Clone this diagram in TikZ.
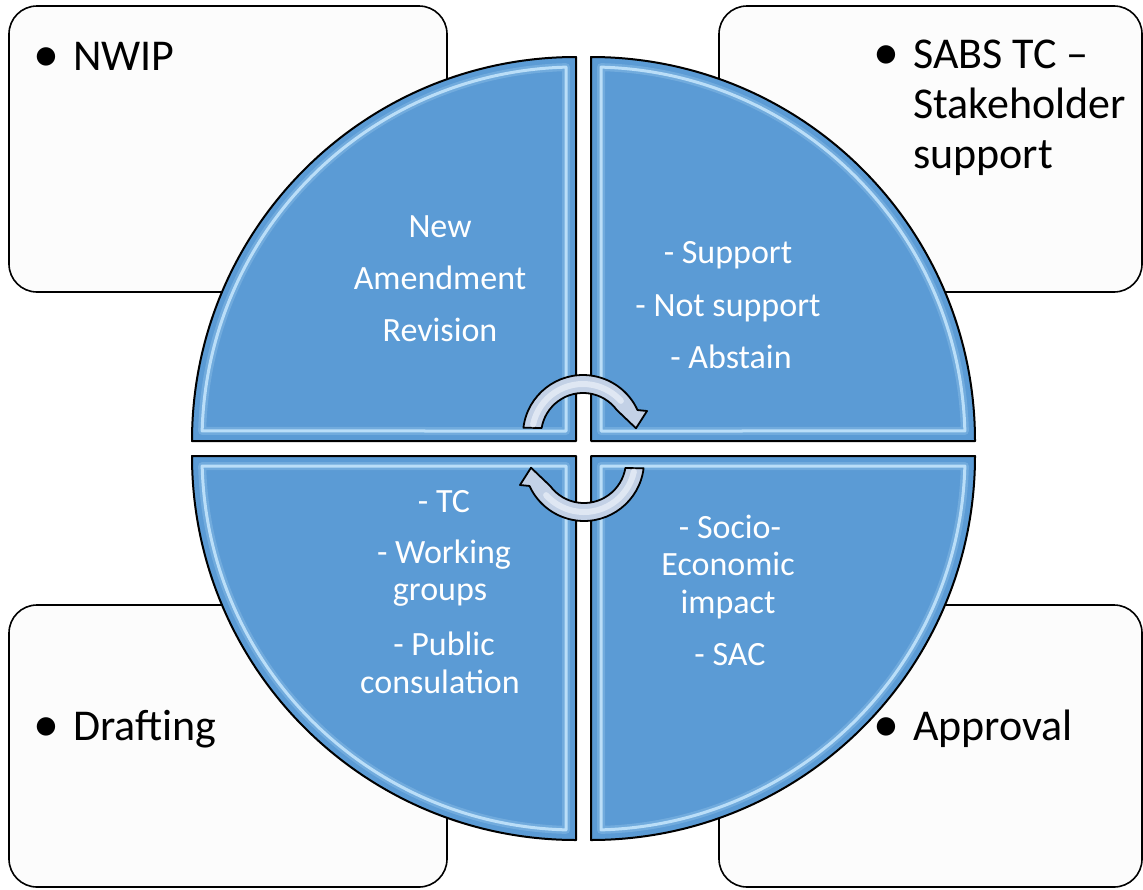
\documentclass[tikz,border=0pt]{standalone}
\usepackage{fontspec}
\setmainfont{Carlito}
\usetikzlibrary{calc}
\definecolor{quadblue}{HTML}{5B9BD5}
\definecolor{bevel}{HTML}{CDEBFF}
\definecolor{boxfill}{HTML}{FCFCFC}
\definecolor{arrowfill}{HTML}{C3D1E6}
\definecolor{arrowlight}{HTML}{E6EDF7}
\begin{document}
\begin{tikzpicture}[x=1pt,y=-1pt,line join=round,
  sidebox/.style={draw=black,line width=1.6pt,fill=boxfill,rounded corners=28pt},
  quad/.style={draw=black,line width=2pt,fill=quadblue},
  bevelline/.style={draw=bevel,line width=3pt,opacity=0.8},
  bevelsoft/.style={draw=bevel,line width=8pt,opacity=0.2},
  outertext/.style={font=\fontsize{44}{50}\selectfont,text=black,inner sep=0pt,anchor=base west},
  bullettext/.style={font=\fontsize{52}{50}\selectfont,text=black,inner sep=0pt,anchor=base west},
  innertext/.style={font=\fontsize{34}{37}\selectfont,text=white,inner sep=0pt,anchor=base},
  cyclearrow/.style={draw=black,line width=1.8pt,fill=arrowfill},
  arrowshine/.style={draw=arrowlight,line width=6pt,opacity=0.8,line cap=round}]
\useasboundingbox (0,0) rectangle (1143,889);
% side boxes
\draw[sidebox] (9,6) rectangle (447,292);
\draw[sidebox] (719,6) rectangle (1142,292);
\draw[sidebox] (9,605) rectangle (447,887);
\draw[sidebox] (719,605) rectangle (1142,887);
% quadrant corners
\coordinate (c1) at (576,441);
\coordinate (c2) at (591,441);
\coordinate (c3) at (576,456);
\coordinate (c4) at (591,456);
% quadrants
\draw[quad] (c1) -- ++(0,-384) arc[start angle=270,end angle=180,radius=384] -- cycle;
\draw[quad] (c2) -- ++(0,-384) arc[start angle=270,end angle=360,radius=384] -- cycle;
\draw[quad] (c3) -- ++(0,384) arc[start angle=90,end angle=180,radius=384] -- cycle;
\draw[quad] (c4) -- ++(0,384) arc[start angle=90,end angle=0,radius=384] -- cycle;
% bevel highlights
\foreach \st in {bevelsoft,bevelline}{
\draw[\st] ($(c1)+(-10,-10)$) -- ($(c1)+(-10,-373.87)$) arc[start angle=268.468,end angle=181.532,radius=374] -- cycle;
\draw[\st] ($(c2)+(10,-10)$) -- ($(c2)+(10,-373.87)$) arc[start angle=271.532,end angle=358.468,radius=374] -- cycle;
\draw[\st] ($(c3)+(-10,10)$) -- ($(c3)+(-10,373.87)$) arc[start angle=91.532,end angle=178.468,radius=374] -- cycle;
\draw[\st] ($(c4)+(10,10)$) -- ($(c4)+(10,373.87)$) arc[start angle=88.468,end angle=1.532,radius=374] -- cycle;
}
% outer texts
\node[bullettext] (b1) at (33,71) {•};
\node[outertext] (t1) at (73,70) {NWIP};
\node[bullettext] (b2) at (873,69) {•};
\node[outertext] (t2a) at (913,68) {SABS TC –};
\node[outertext] (t2b) at (913,118) {Stakeholder};
\node[outertext] (t2c) at (913,168) {support};
\node[bullettext] (b3) at (33,741) {•};
\node[outertext] (t3) at (73,740) {Drafting};
\node[bullettext] (b4) at (873,741) {•};
\node[outertext] (t4) at (913,740) {Approval};
% inner texts
\node[innertext] (q1a) at (440,237) {New};
\node[innertext] (q1b) at (440,289) {Amendment};
\node[innertext] (q1c) at (440,341) {Revision};
\node[innertext] (q2a) at (728,263) {- Support};
\node[innertext] (q2b) at (728,316) {- Not support};
\node[innertext] (q2c) at (731,368) {- Abstain};
\node[innertext] (q3a) at (444,512) {- TC};
\node[innertext] (q3b) at (444,563) {- Working};
\node[innertext] (q3c) at (440,600) {groups};
\node[innertext] (q3d) at (444,655) {- Public};
\node[innertext] (q3e) at (440,693) {consulation};
\node[innertext] (q4a) at (730,538) {- Socio-};
\node[innertext] (q4b) at (728,575) {Economic};
\node[innertext] (q4c) at (728,613) {impact};
\node[innertext] (q4d) at (730,665) {- SAC};
% circular arrows
\foreach \rot in {0,180}{
\begin{scope}[rotate around={\rot:(583.5,448)}]
\draw[cyclearrow] (523.4,427.7) arc[start angle=187,end angle=335.4,radius=60]
  -- (647,411) -- (636,428.3) -- (616.8,410)
  arc[start angle=323.5,end angle=189.6,radius=42] -- cycle;
\draw[arrowshine] (533.1,424.4) arc[start angle=192,end angle=318,radius=51];
\end{scope}
}
\end{tikzpicture}
\end{document}
